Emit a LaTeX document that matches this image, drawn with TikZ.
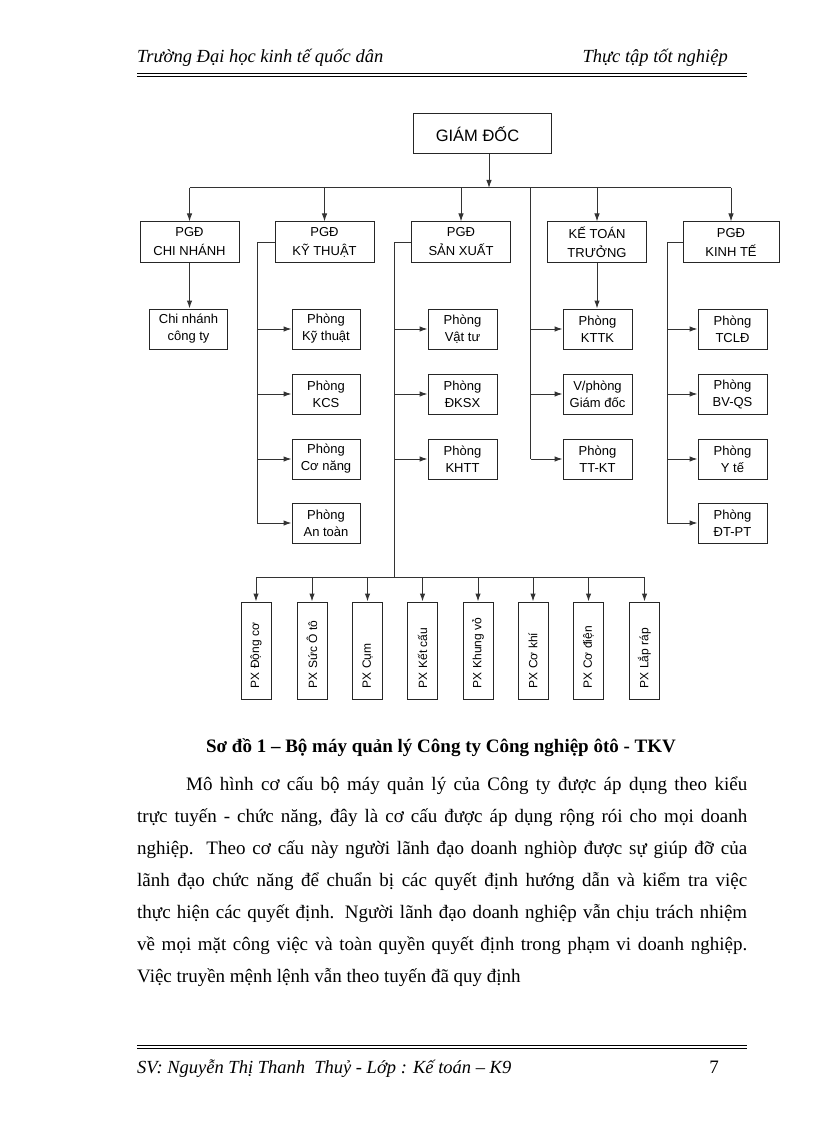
\documentclass[tikz,border=0pt]{standalone}
\usepackage{fontspec}
\setmainfont{Liberation Serif}
\newfontfamily\arial{Liberation Sans}
\usetikzlibrary{arrows.meta}
\begin{document}
\begin{tikzpicture}[x=1pt,y=-1pt,
  ln/.style={draw=black!80, line width=1pt},
  arr/.style={ln, -{Latex[length=8pt,width=5.5pt]}},
  box/.style={draw=black!85, line width=1pt, inner sep=0pt, align=center, minimum height=40pt},
  topbox/.style={box, font=\arial\fontsize{13}{19}\selectfont},
  subbox/.style={box, font=\arial\fontsize{13}{17}\selectfont},
  pxbox/.style={draw=black!85, line width=1pt, inner sep=0pt, minimum width=30pt, minimum height=97pt, font=\arial\fontsize{12}{14}\selectfont},
  txt/.style={inner sep=0pt, font=\fontsize{19}{22}\selectfont},
  hdr/.style={inner sep=0pt, font=\itshape\fontsize{18.5}{22}\selectfont},
  rule/.style={draw=black, line width=0.8pt},
]
\useasboundingbox[fill=white] (0,0) rectangle (816,1123);

% header
\node[hdr, anchor=base west] (h1) at (137,63) {Trường Đại học kinh tế quốc dân};
\node[hdr, anchor=base east] (h2) at (728,63) {Thực tập tốt nghiệp};
\draw[rule] (137,73) -- (747,73);
\draw[rule] (137,76.5) -- (747,76.5);

% top
\node[box, minimum width=138pt, font=\arial\fontsize{16.5}{18}\selectfont] (gd) at (482,134) {GIÁM ĐỐC\hspace*{9pt}};

\node[topbox, minimum width=99pt] (cn) at (189.5,242) {PGĐ\\CHI NHÁNH};
\node[topbox, minimum width=99pt] (kt) at (324.5,242) {PGĐ\\KỸ THUẬT};
\node[topbox, minimum width=99pt] (sx) at (461,242) {PGĐ\\SẢN XUẤT};
\node[topbox, minimum width=99pt] (ke) at (597,242) {KẾ TOÁN\\TRƯỞNG};
\node[topbox, minimum width=96pt] (kn) at (731,242) {PGĐ\\KINH TẾ};

\coordinate (bus) at (489,188);
\draw[arr] (gd.south -| bus) -- (bus);
\draw[ln] (cn.north |- bus) -- (kn.north |- bus);
\foreach \n in {cn,kt,sx,ke,kn} \draw[arr] (\n.north |- bus) -- (\n.north);

% chi nhanh
\node[subbox, minimum width=78pt] (cnc) at (188.5,329) {Chi nhánh\\công ty};
\draw[arr] (cn.south) -- (cn.south |- cnc.north);

% ky thuat
\node[subbox, minimum width=68pt] (kt1) at (326,329) {Phòng\\Kỹ thuật};
\node[subbox, minimum width=68pt] (kt2) at (326,394) {Phòng\\KCS};
\node[subbox, minimum width=68pt] (kt3) at (326,459) {Phòng\\Cơ năng};
\node[subbox, minimum width=68pt] (kt4) at (326,523) {Phòng\\An toàn};
\coordinate (ktsp) at (257,523);
\draw[ln] (kt.west) -| (ktsp);
\foreach \n in {kt1,kt2,kt3,kt4} \draw[arr] (\n.west -| ktsp) -- (\n.west);

% san xuat
\node[subbox, minimum width=69pt] (sx1) at (462.5,329) {Phòng\\Vật tư};
\node[subbox, minimum width=69pt] (sx2) at (462.5,394) {Phòng\\ĐKSX};
\node[subbox, minimum width=69pt] (sx3) at (462.5,459) {Phòng\\KHTT};
\coordinate (pxbus) at (394,577);
\draw[ln] (sx.west) -| (pxbus);
\foreach \n in {sx1,sx2,sx3} \draw[arr] (\n.west -| pxbus) -- (\n.west);

% ke toan
\node[subbox, minimum width=69pt] (ke1) at (597.5,329) {Phòng\\KTTK};
\node[subbox, minimum width=69pt] (ke2) at (597.5,394) {V/phòng\\Giám đốc};
\node[subbox, minimum width=69pt] (ke3) at (597.5,459) {Phòng\\TT-KT};
\coordinate (kesp) at (530.5,459);
\draw[ln] (bus -| kesp) -- (kesp);
\draw[arr] (ke.south) -- (ke.south |- ke1.north);
\foreach \n in {ke1,ke2,ke3} \draw[arr] (\n.west -| kesp) -- (\n.west);

% kinh te
\node[subbox, minimum width=69pt] (kn1) at (732.5,329) {Phòng\\TCLĐ};
\node[subbox, minimum width=69pt] (kn2) at (732.5,394) {Phòng\\BV-QS};
\node[subbox, minimum width=69pt] (kn3) at (732.5,459) {Phòng\\Y tế};
\node[subbox, minimum width=69pt] (kn4) at (732.5,523) {Phòng\\ĐT-PT};
\coordinate (knsp) at (667,523);
\draw[ln] (kn.west) -| (knsp);
\foreach \n in {kn1,kn2,kn3,kn4} \draw[arr] (\n.west -| knsp) -- (\n.west);

% PX row
\foreach \i/\x/\t in {1/256/PX Động cơ, 2/312/PX Sức Ô tô, 3/367.5/PX Cụm, 4/422.5/PX Kết cấu, 5/478/PX Khung vỏ, 6/533/PX Cơ khí, 7/588.5/PX Cơ điện, 8/644.5/PX Lắp ráp}
  \node[pxbox] (px\i) at (\x,650.5) {\rotatebox{90}{\makebox[75pt][l]{\t}}};
\draw[ln] (px1.north |- pxbus) -- (px8.north |- pxbus);
\foreach \i in {1,...,8} \draw[arr] (px\i.north |- pxbus) -- (px\i.north);

% caption & text
\node[txt, anchor=base, font=\bfseries\fontsize{19}{22}\selectfont] (cap) at (441,752) {Sơ đồ 1 – Bộ máy quản lý Công ty Công nghiệp ôtô - TKV};
\node[txt, anchor=base west] (p1) at (186,790) {\makebox[561pt][s]{Mô hình cơ cấu bộ máy quản lý của Công ty được áp dụng theo kiểu}};
\node[txt, anchor=base west] (p2) at (137,822) {\makebox[610pt][s]{trực tuyến - chức năng, đây là cơ cấu được áp dụng rộng rói cho mọi doanh}};
\node[txt, anchor=base west] (p3) at (137,854) {\makebox[610pt][s]{nghiệp. Theo cơ cấu này người lãnh đạo doanh nghiòp được sự giúp đỡ của}};
\node[txt, anchor=base west] (p4) at (137,886) {\makebox[610pt][s]{lãnh đạo chức năng để chuẩn bị các quyết định hướng dẫn và kiểm tra việc}};
\node[txt, anchor=base west] (p5) at (137,918) {\makebox[610pt][s]{thực hiện các quyết định. Người lãnh đạo doanh nghiệp vẫn chịu trách nhiệm}};
\node[txt, anchor=base west] (p6) at (137,950) {\makebox[610pt][s]{về mọi mặt công việc và toàn quyền quyết định trong phạm vi doanh nghiệp.}};
\node[txt, anchor=base west] (p7) at (137,982) {Việc truyền mệnh lệnh vẫn theo tuyến đã quy định};

% footer
\draw[rule] (137,1045) -- (747,1045);
\draw[rule] (137,1048.5) -- (747,1048.5);
\node[hdr, anchor=base west] (f1) at (137,1073) {SV: Nguyễn Thị Thanh \ Thuỷ - Lớp : Kế toán – K9};
\node[txt, anchor=base east] (f2) at (719,1073) {7};
\end{tikzpicture}
\end{document}
